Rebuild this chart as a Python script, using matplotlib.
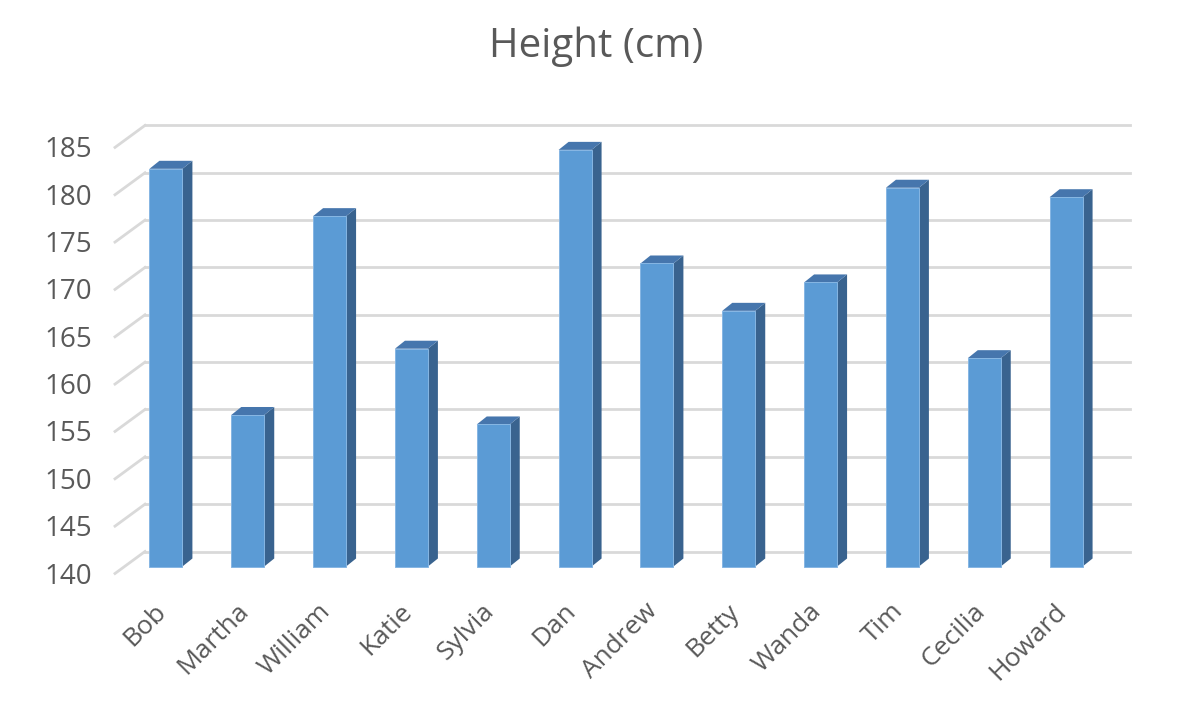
import matplotlib
matplotlib.use("Agg")
import matplotlib.pyplot as plt
from matplotlib.patches import Polygon
import numpy as np

names = ["Bob", "Martha", "William", "Katie", "Sylvia", "Dan", "Andrew",
         "Betty", "Wanda", "Tim", "Cecilia", "Howard"]
heights = [182, 156, 177, 163, 155, 184, 172, 167, 170, 180, 162, 179]
yticks = [140, 145, 150, 155, 160, 165, 170, 175, 180, 185]
title = "Height (cm)"

W, H, DPI = 1194, 710, 100
fig = plt.figure(figsize=(W / DPI, H / DPI), dpi=DPI)
fig.patch.set_facecolor("white")

# axes = bar plane (pixel coordinates measured from top-left)
x0, x1 = 125, 1107
y140, y185 = 566.5, 140.4
ax = fig.add_axes([x0 / W, (H - y140) / H, (x1 - x0) / W, (y140 - y185) / H])
ax.set_xlim(-0.5, len(names) - 0.5)
ax.set_ylim(140, 185)
ax.axis("off")

FONT = ["Open Sans", "DejaVu Sans"]
TXT = "#595959"
GRID = "#d9d9d9"

# offsets in pixels (display coordinates, y up)
back_dx, back_dy = 20, 15
front_dx, front_dy = -10, -7
depth_dx, depth_dy = 10, 8

td = ax.transData
xl = ax.get_xlim()

def disp(x, y):
    return td.transform((x, y))

# back wall gridlines and left diagonals
for v in yticks:
    pl = disp(xl[0], v)
    pr = disp(xl[1], v)
    ax.add_line(plt.Line2D([pl[0] + back_dx, pr[0] + back_dx + 3],
                           [pl[1] + back_dy, pr[1] + back_dy],
                           transform=None, color=GRID, lw=2, zorder=1,
                           clip_on=False))
    ax.add_line(plt.Line2D([pl[0] + front_dx, pl[0] + back_dx],
                           [pl[1] + front_dy, pl[1] + back_dy],
                           transform=None, color=GRID, lw=2, zorder=1,
                           clip_on=False))
    fig.text((pl[0] + front_dx - 23) / W, (pl[1] + front_dy - 3) / H, str(v),
             ha="right", va="center", fontsize=20, color=TXT, family=FONT)

# bars
bw = 0.403
FRONT = "#5b9bd5"
SIDE = "#39638f"
TOP = "#4676ad"
xs = np.arange(len(names))
ax.bar(xs, np.array(heights) - 140, bottom=140, width=bw, color=FRONT,
       edgecolor="#86b6e3", linewidth=0.7, zorder=3, clip_on=False)
for x, v in zip(xs, heights):
    lt = disp(x - bw / 2, v)
    rt = disp(x + bw / 2, v)
    rb = disp(x + bw / 2, 140)
    side = Polygon([rb, rt, (rt[0] + depth_dx, rt[1] + depth_dy),
                    (rb[0] + depth_dx, rb[1] + depth_dy)],
                   closed=True, transform=None, facecolor=SIDE,
                   edgecolor="none", zorder=2.5, clip_on=False)
    top = Polygon([lt, rt, (rt[0] + depth_dx, rt[1] + depth_dy),
                   (lt[0] + depth_dx, lt[1] + depth_dy)],
                  closed=True, transform=None, facecolor=TOP,
                  edgecolor="none", zorder=2.5, clip_on=False)
    ax.add_patch(side)
    ax.add_patch(top)

# category labels
for x, n in zip(xs, names):
    p = disp(x, 140)
    fig.text((p[0] - 3) / W, (p[1] - 41) / H, n, rotation=45,
             rotation_mode="anchor", ha="right", va="center",
             fontsize=19, color=TXT, family=FONT)

fig.text(596 / W, (H - 47) / H, title, ha="center", va="center",
         fontsize=29, color=TXT, family=FONT)

fig.savefig("out.png", dpi=DPI, facecolor="white")
